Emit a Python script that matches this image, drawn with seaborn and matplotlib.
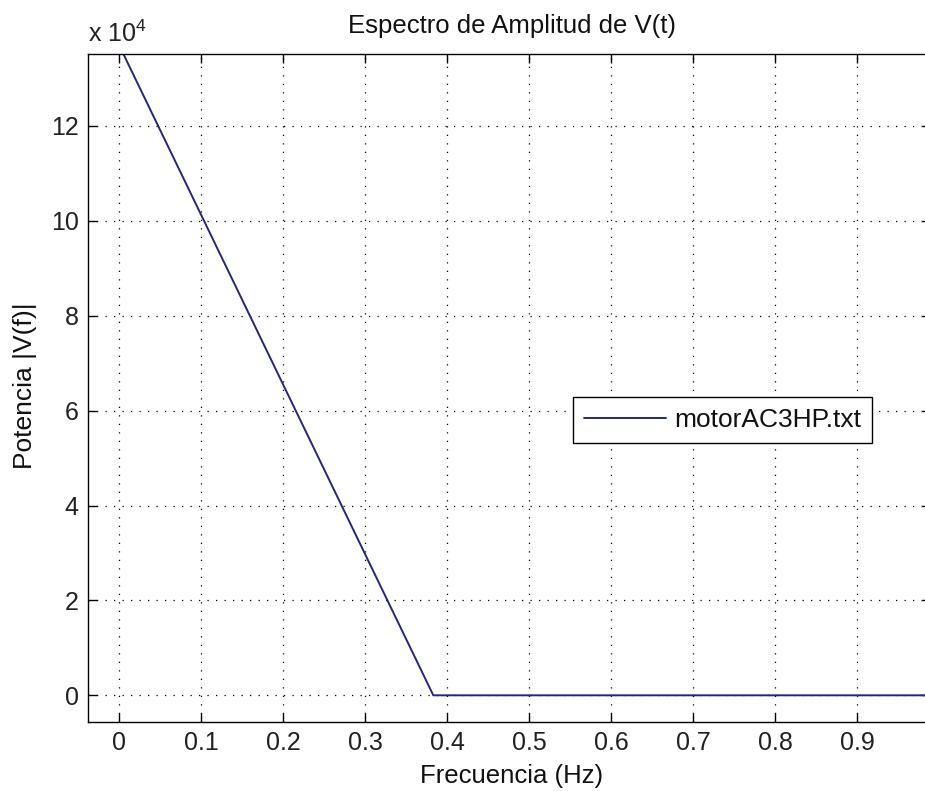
import matplotlib
matplotlib.use("Agg")
import matplotlib.pyplot as plt
import seaborn as sns
import pandas as pd
from matplotlib.ticker import FixedLocator

# Spectrum samples: frequency (Hz) and amplitude |V(f)|
freq = [0.005, 0.383, 0.99]
amp = [135150, 0, 0]
series_name = "motorAC3HP.txt"

x_ticks = [0, 0.1, 0.2, 0.3, 0.4, 0.5, 0.6, 0.7, 0.8, 0.9]
x_tick_labels = ["0", "0.1", "0.2", "0.3", "0.4", "0.5", "0.6", "0.7", "0.8", "0.9"]
y_ticks = [0, 20000, 40000, 60000, 80000, 100000, 120000]
y_tick_labels = ["0", "2", "4", "6", "8", "10", "12"]

sns.set_theme(style="white")
plt.rcParams["font.family"] = ["Liberation Sans", "DejaVu Sans"]
plt.rcParams["mathtext.default"] = "regular"

df = pd.DataFrame({"Frecuencia": freq, "Amplitud": amp, "serie": series_name})

W, H = 925, 791
fig = plt.figure(figsize=(W / 100, H / 100), dpi=100)
fig.patch.set_facecolor("white")
left, right, bottom, top = 88.3, 931.0, 721.7, 54.0
ax = fig.add_axes([left / W, 1 - bottom / H, (right - left) / W, (bottom - top) / H])
ax.set_facecolor("white")

sns.lineplot(data=df, x="Frecuencia", y="Amplitud", hue="serie",
             palette=["#26267c"], linewidth=1.4, ax=ax, legend=True)

ax.set_xlim(-0.0378, 0.99)
ax.set_ylim(-5560, 135150)

ax.xaxis.set_major_locator(FixedLocator(x_ticks))
ax.set_xticklabels(x_tick_labels)
ax.yaxis.set_major_locator(FixedLocator(y_ticks))
ax.set_yticklabels(y_tick_labels)

ax.tick_params(axis="both", direction="in", length=6.5, width=1.0, color="black",
               labelsize=18, labelcolor="#222222", top=True, right=True,
               bottom=True, left=True, pad=7)
for s in ax.spines.values():
    s.set_color("black")
    s.set_linewidth(1.0)

ax.grid(True, color="black", linestyle=(0, (1, 5.8)), linewidth=0.9)

ax.set_xlabel("")
ax.set_ylabel("")

leg = ax.legend(loc="upper left",
                bbox_to_anchor=((573 - left) / (right - left), (bottom - 397) / (bottom - top)),
                frameon=True, fancybox=False, fontsize=19, handlelength=3.1,
                borderpad=0.42, borderaxespad=0, handletextpad=0.3)
leg.get_frame().set_edgecolor("black")
leg.get_frame().set_linewidth(1.0)
leg.get_frame().set_facecolor("white")
leg.get_frame().set_alpha(1)
for t in leg.get_texts():
    t.set_color("#111111")

fig.text(512 / W, 1 - 33 / H, "Espectro de Amplitud de V(t)", ha="center", va="baseline",
         fontsize=18.5, color="#111111")
fig.text(512 / W, 1 - 783 / H, "Frecuencia (Hz)", ha="center", va="baseline",
         fontsize=18.5, color="#111111")
fig.text(25 / W, 1 - 386 / H, "Potencia |V(f)|", ha="center", va="center",
         rotation=90, fontsize=19, color="#111111")
fig.text(88 / W, 1 - 42 / H, "x 10$^{4}$", ha="left", va="baseline",
         fontsize=18, color="#222222")

fig.savefig("out.png", dpi=100, facecolor="white")
